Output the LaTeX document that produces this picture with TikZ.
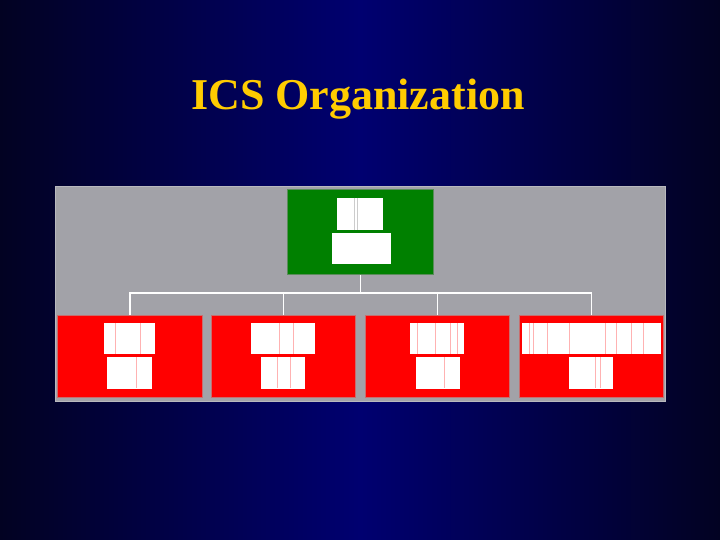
\documentclass[tikz,border=0pt]{standalone}
\usepackage{fontspec}
\setmainfont{Liberation Serif}
\usetikzlibrary{positioning}
\definecolor{slideblue}{RGB}{0,0,112}
\definecolor{slidedark}{RGB}{2,2,34}
\definecolor{titlegold}{RGB}{255,204,0}
\definecolor{panelgray}{RGB}{162,162,168}
\definecolor{cmdgreen}{RGB}{0,128,0}
\definecolor{secred}{RGB}{255,0,0}
\begin{document}
\begin{tikzpicture}[
		x=1pt, y=-1pt,
		box/.style={draw, line width=1pt, inner sep=0pt, anchor=north west},
		cmdbox/.style={box, fill=cmdgreen, draw={rgb,255:red,90;green,140;blue,90}},
		secbox/.style={box, fill=secred, draw={rgb,255:red,200;green,110;blue,110}},
		label/.style={fill=white, inner sep=0pt, anchor=north west},
		conn/.style={draw=white, line width=1.3pt}
		]
		% background and title
		\shade[left color=slidedark, right color=slidedark, middle color=slideblue] (0,0) rectangle (720,540);
		\useasboundingbox (0,0) rectangle (720,540);
		\node (title) at (358,99) {\fontsize{44}{50}\selectfont\bfseries\color{titlegold}ICS Organization};
		% panel
		\node (panel) [box, fill=panelgray, draw={rgb,255:red,185;green,185;blue,190},
			minimum width=610, minimum height=215] at (55,186) {};
		% command
		\node (cmd) [cmdbox, minimum width=146, minimum height=85] at (287,189) {};
		% sections
		\node (s1) [secbox, minimum width=145, minimum height=82] at (57,315) {};
		\node (s2) [secbox, minimum width=144, minimum height=82] at (211,315) {};
		\node (s3) [secbox, minimum width=144, minimum height=82] at (365,315) {};
		\node (s4) [secbox, minimum width=144, minimum height=82] at (519,315) {};
		% connectors
		\coordinate (bus) at (cmd.south |- 0,293);
		\draw[conn] (cmd.south) -- (bus);
		\foreach \s in {s1,s2,s3,s4}
			\draw[conn] (\s.north) |- (bus);
		% white label blocks
		\foreach \x/\y/\w/\h in {337/198/46/32, 332/233/59/31,
				104/323/51/31, 107/357/45/32,
				251/323/64/31, 261/357/44/32,
				410/323/54/31, 416/357/44/32,
				522/323/139/31, 569/357/44/32}
			\fill[white] (\x,\y) rectangle ++(\w,\h);
		\foreach \x/\y in {354/198, 357/198}
			\draw[gray!40, line width=0.6pt] (\x,\y) -- ++(0,32);
		\foreach \x/\y in {115/323, 140/323, 136/357, 279/323, 293/323, 277/357, 290/357,
				417/323, 435/323, 450/323, 457/323, 444/357,
				529/323, 533/323, 547/323, 569/323, 605/323, 616/323, 631/323, 643/323,
				595/357, 600/357}
			\draw[red!30, line width=0.6pt] (\x,\y) -- ++(0,31);
	\end{tikzpicture}
\end{document}
